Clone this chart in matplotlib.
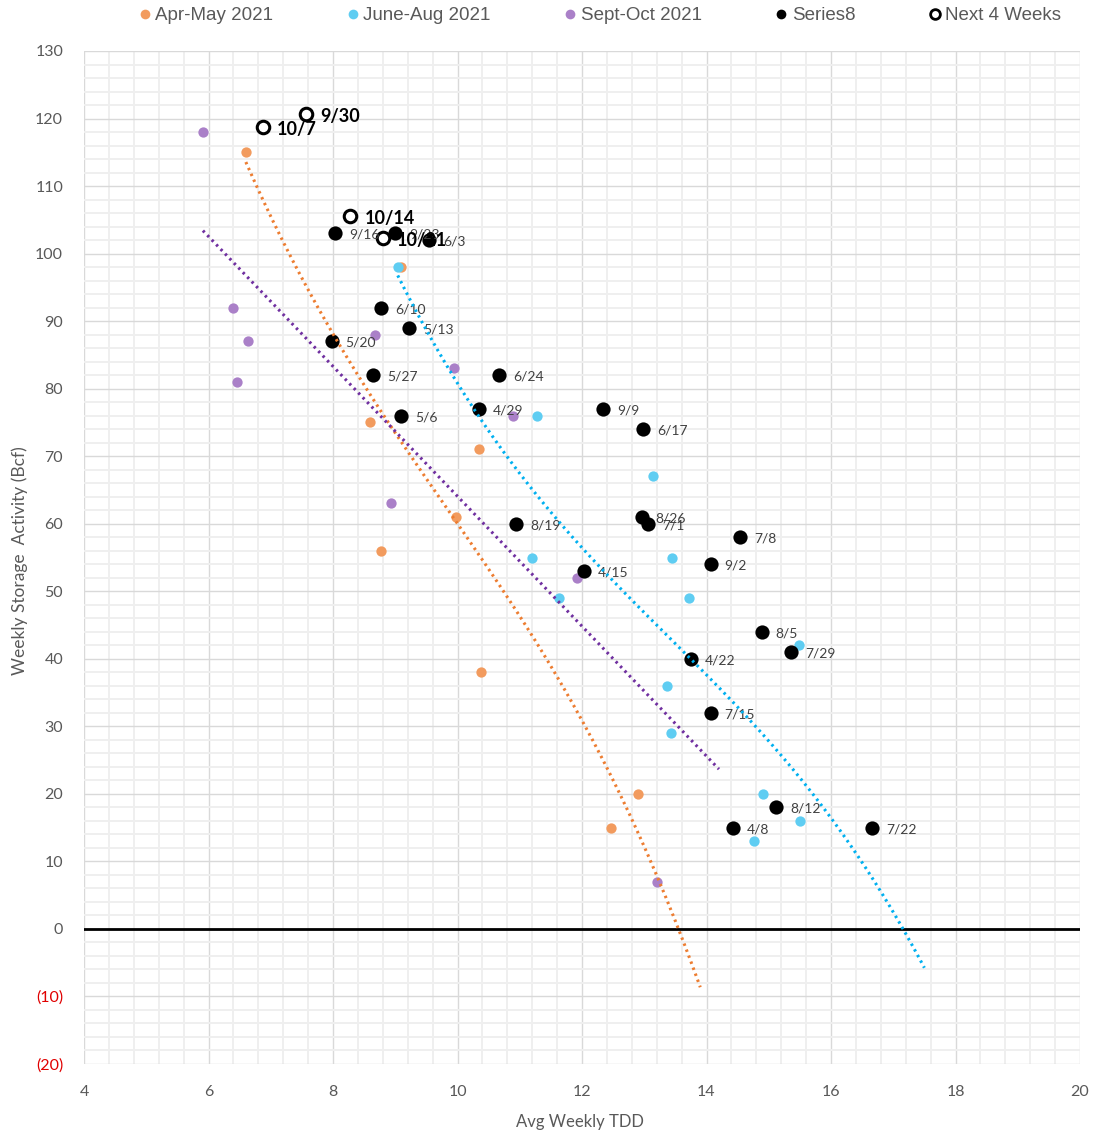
import numpy as np
import matplotlib.pyplot as plt
from matplotlib.ticker import MultipleLocator
from matplotlib.lines import Line2D

# data
apr_may_x = [6.6, 9.09, 8.59, 10.35, 9.98, 8.77, 10.38, 12.9, 12.47]
apr_may_y = [115, 98, 75, 71, 61, 56, 38, 20, 15]

jun_aug_x = [9.04, 11.28, 13.14, 11.2, 13.45, 11.63, 13.72, 13.37, 13.43, 15.49, 14.91, 15.5, 14.76]
jun_aug_y = [98, 76, 67, 55, 55, 49, 49, 36, 29, 42, 20, 16, 13]

sep_oct_x = [5.91, 6.39, 6.63, 6.46, 8.67, 9.94, 10.89, 8.93, 11.92, 13.2]
sep_oct_y = [118, 92, 87, 81, 88, 83, 76, 63, 52, 7]

s8_x = [8.03, 9.0, 9.54, 8.77, 9.22, 7.98, 8.64, 10.67, 10.35, 9.09, 12.34, 12.98, 12.96,
        13.06, 10.94, 14.54, 14.07, 12.03, 14.89, 15.36, 13.75, 14.07, 15.12, 14.43, 16.66]
s8_y = [103, 103, 102, 92, 89, 87, 82, 82, 77, 76, 77, 74, 61,
        60, 60, 58, 54, 53, 44, 41, 40, 32, 18, 15, 15]
s8_labels = ["9/16", "9/23", "6/3", "6/10", "5/13", "5/20", "5/27", "6/24", "4/29", "5/6",
             "9/9", "6/17", "8/26", "7/1", "8/19", "7/8", "9/2", "4/15", "8/5", "7/29",
             "4/22", "7/15", "8/12", "4/8", "7/22"]

next_x = [7.57, 6.88, 8.28, 8.80]
next_y = [120.6, 118.7, 105.5, 102.3]
next_labels = ["9/30", "10/7", "10/14", "10/21"]

c_orange = "#F29B5E"
c_blue = "#5FCDF2"
c_purple = "#AA80C8"
grey = "#595959"

fig = plt.figure(figsize=(10.97, 11.33), dpi=100)
ax = fig.add_axes([84/1097, 1-1064/1133, (1080-84)/1097, (1064-51)/1133])

ax.set_xlim(4, 20)
ax.set_ylim(-20, 130)
ax.xaxis.set_major_locator(MultipleLocator(2))
ax.xaxis.set_minor_locator(MultipleLocator(0.4))
ax.yaxis.set_major_locator(MultipleLocator(10))
ax.yaxis.set_minor_locator(MultipleLocator(2))
ax.grid(which="minor", color="#efefef", lw=1.4, zorder=0)
ax.grid(which="major", color="#d9d9d9", lw=1, zorder=0)
ax.set_axisbelow(True)
for s in ax.spines.values():
    s.set_visible(False)
ax.tick_params(which="both", length=0)
ax.tick_params(axis="y", pad=15, labelsize=11.5, labelcolor=grey)
ax.tick_params(axis="x", pad=15, labelsize=11.5, labelcolor=grey)
for lab in ax.get_xticklabels():
    lab.set_fontfamily("Lato")

yt = list(range(-20, 131, 10))
ax.set_yticks(yt)
ax.set_yticklabels([f"({-v})" if v < 0 else str(v) for v in yt], fontfamily="Lato")
for v, lab in zip(yt, ax.get_yticklabels()):
    if v < 0:
        lab.set_color("#E00000")

ax.axhline(0, color="black", lw=2, zorder=2)

ax.scatter(apr_may_x, apr_may_y, s=55, color=c_orange, lw=0, zorder=3)
ax.scatter(jun_aug_x, jun_aug_y, s=55, color=c_blue, lw=0, zorder=3)
ax.scatter(sep_oct_x, sep_oct_y, s=55, color=c_purple, lw=0, zorder=3)
ax.scatter(s8_x, s8_y, s=105, color="black", lw=0, zorder=4)
ax.plot(next_x, next_y, ls="none", marker="o", ms=9, mfc="white", mec="black", mew=2.2, zorder=5)

for x, y, t in zip(s8_x, s8_y, s8_labels):
    ax.annotate(t, (x, y), xytext=(10, -1), textcoords="offset points", ha="left", va="center",
                fontsize=10, color="#404040", family="Lato", zorder=6)
for x, y, t in zip(next_x, next_y, next_labels):
    ax.annotate(t, (x, y), xytext=(10, -1.5), textcoords="offset points", ha="left", va="center",
                fontsize=13, fontweight="bold", color="black", family="Lato", zorder=7)


def trend(x, y, deg, forward):
    coef = np.polyfit(x, y, deg)
    xs = np.linspace(min(x), max(x) + forward, 200)
    return xs, np.polyval(coef, xs)


dots = (0, (0.8, 1.3))
for xs, ys, col in [trend(apr_may_x, apr_may_y, 3, 1.0) + ("#ED7D31",),
                    trend(jun_aug_x, jun_aug_y, 3, 2.0) + ("#00B0F0",),
                    trend(sep_oct_x, sep_oct_y, 1, 1.0) + ("#7030A0",)]:
    ax.plot(xs, ys, color=col, lw=2.2, ls=dots, zorder=8)

ax.set_xlabel("Avg Weekly TDD", fontsize=12, color=grey, family="Lato")
ax.set_ylabel("Weekly Storage  Activity (Bcf)", fontsize=12.5, color=grey, family="Lato")
ax.xaxis.set_label_coords(0.498, -0.049)
ax.yaxis.set_label_coords(-0.056, 0.497)

handles = [
    Line2D([], [], ls="none", marker="o", ms=7, mfc=c_orange, mec="none"),
    Line2D([], [], ls="none", marker="o", ms=7, mfc=c_blue, mec="none"),
    Line2D([], [], ls="none", marker="o", ms=7, mfc=c_purple, mec="none"),
    Line2D([], [], ls="none", marker="o", ms=7, mfc="black", mec="none"),
    Line2D([], [], ls="none", marker="o", ms=7, mfc="white", mec="black", mew=2),
]
names = ["Apr-May 2021", "June-Aug 2021", "Sept-Oct 2021", "Series8", "Next 4 Weeks"]
fig.legend(handles, names, loc="upper left", bbox_to_anchor=(129/1097, 1 + 2/1133), ncol=5,
           frameon=False, handlelength=0.7, handletextpad=0.2, columnspacing=3.9, borderpad=0,
           prop={"family": "Liberation Sans", "size": 13.5}, labelcolor=grey)

fig.savefig("out.png", dpi=100)
